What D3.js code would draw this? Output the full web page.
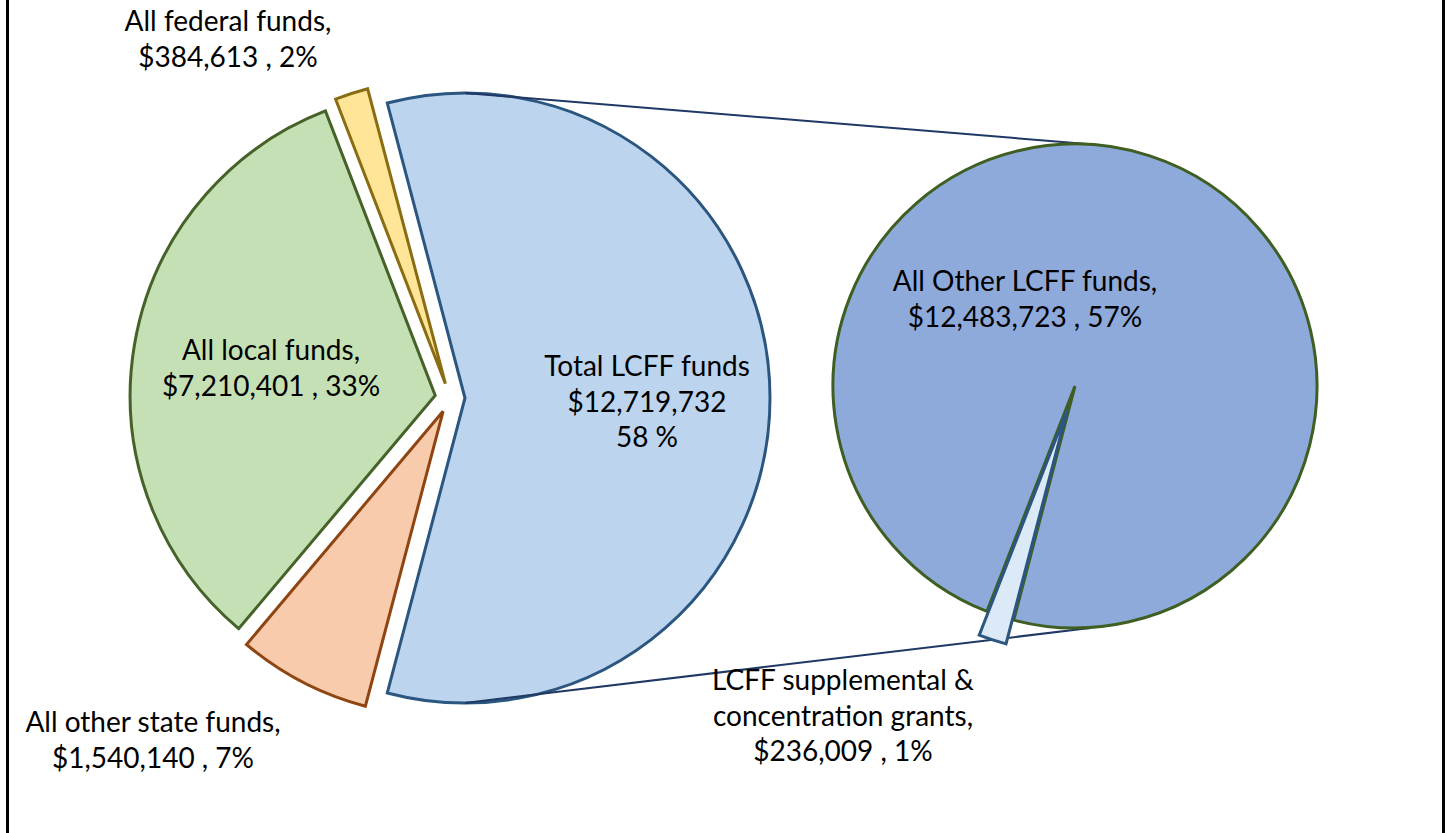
<!DOCTYPE html>
<html>
<head>
<meta charset="utf-8">
<script src="https://cdn.jsdelivr.net/npm/d3@7"></script>
<style>
  html, body { margin: 0; padding: 0; background: #ffffff; }
  svg { display: block; }
  text { font-family: Lato, "Open Sans", sans-serif; font-size: 28px; fill: #000; }
</style>
</head>
<body>
<svg id="chart" width="1451" height="833"></svg>
<script>
// ---- Data ----
const leftCategories = ["Total LCFF funds", "All other state funds", "All local funds", "All federal funds"];
const leftValues = [12719732, 1540140, 7210401, 384613];
const leftPercents = ["58 %", "7%", "33%", "2%"];

const rightCategories = ["LCFF supplemental & concentration grants", "All Other LCFF funds"];
const rightValues = [236009, 12483723];
const rightPercents = ["1%", "57%"];

// ---- Styles ----
const leftFill   = ["#bdd4ee", "#f8cbad", "#c5e0b4", "#ffe597"];
const leftStroke = ["#2a5680", "#8f4512", "#466229", "#8a6c12"];
const rightFill   = ["#dce9f6", "#8eaadb"];
const rightStroke = ["#2a5680", "#3f5f22"];

const fmt = d3.format("$,");

const svg = d3.select("#chart");
const W = 1451, H = 833;

// frame (left / right border lines; top/bottom outside the view)
svg.append("rect").attr("x", 7.5).attr("y", -10).attr("width", 1436).attr("height", H + 20)
  .attr("fill", "none").attr("stroke", "#000").attr("stroke-width", 3);

// ---- Left pie ----
const c0 = [450, 398], r0 = 305, explode0 = 15;
const totalLeft = d3.sum(leftValues);
const firstAngle = leftValues[0] / totalLeft * 2 * Math.PI;
const startL = Math.PI / 2 - firstAngle / 2;
const pieL = d3.pie().sort(null).startAngle(startL).endAngle(startL + 2 * Math.PI);
const arcsL = pieL(leftValues);
const arcL = d3.arc().innerRadius(0).outerRadius(r0);

function offset(a, dist) {
  const m = (a.startAngle + a.endAngle) / 2;
  return [Math.sin(m) * dist, -Math.cos(m) * dist];
}

const gL = svg.append("g").attr("transform", `translate(${c0[0]},${c0[1]})`);
gL.selectAll("path").data(arcsL).join("path")
  .attr("d", arcL)
  .attr("transform", d => { const o = offset(d, explode0); return `translate(${o[0]},${o[1]})`; })
  .attr("fill", (d, i) => leftFill[i])
  .attr("stroke", (d, i) => leftStroke[i])
  .attr("stroke-width", 3)
  .attr("stroke-linejoin", "miter");

// ---- Right pie ----
const c2 = [1075, 386], r2 = 242, explode2 = 25;
const totalRight = d3.sum(rightValues);
const smallAngle = rightValues[0] / totalRight * 2 * Math.PI;
const smallMid = 198 * Math.PI / 180;
const startR = smallMid - smallAngle / 2;
const pieR = d3.pie().sort(null).startAngle(startR).endAngle(startR + 2 * Math.PI);
const arcsR = pieR(rightValues);
const arcR = d3.arc().innerRadius(0).outerRadius(r2);

// connector lines (from top/bottom of the exploded first slice to top/bottom of second pie)
const o1 = offset(arcsL[0], explode0);
const lcffTop = [c0[0] + o1[0], c0[1] + o1[1] - r0];
const lcffBot = [c0[0] + o1[0], c0[1] + o1[1] + r0];
svg.append("line").attr("x1", lcffTop[0]).attr("y1", lcffTop[1]).attr("x2", c2[0] + 12).attr("y2", c2[1] - r2)
  .attr("stroke", "#1f3864").attr("stroke-width", 2);
svg.append("line").attr("x1", lcffBot[0]).attr("y1", lcffBot[1]).attr("x2", c2[0] + 15).attr("y2", c2[1] + r2)
  .attr("stroke", "#1f3864").attr("stroke-width", 2);

const gR = svg.append("g").attr("transform", `translate(${c2[0]},${c2[1]})`);
// big slice first, then the exploded small one on top
const orderR = [1, 0];
gR.selectAll("path").data(orderR.map(i => ({a: arcsR[i], i}))).join("path")
  .attr("d", d => arcR(d.a))
  .attr("transform", d => { const o = d.i === 0 ? offset(d.a, explode2) : [0, 0]; return `translate(${o[0]},${o[1]})`; })
  .attr("fill", d => rightFill[d.i])
  .attr("stroke", d => rightStroke[d.i])
  .attr("stroke-width", 3)
  .attr("stroke-linejoin", "miter");

// ---- Labels ----
const labels = [
  { lines: [leftCategories[3] + ",", fmt(leftValues[3]) + " , " + leftPercents[3]], x: 228, y: 31 },
  { lines: ["All local funds,", fmt(leftValues[2]) + " , " + leftPercents[2]], x: 271, y: 360 },
  { lines: [leftCategories[0], fmt(leftValues[0]), leftPercents[0]], x: 647, y: 376 },
  { lines: [leftCategories[1] + ",", fmt(leftValues[1]) + " , " + leftPercents[1]], x: 153, y: 732 },
  { lines: [rightCategories[1] + ",", fmt(rightValues[1]) + " , " + rightPercents[1]], x: 1025, y: 291 },
  { lines: ["LCFF supplemental &", "concentration grants,", fmt(rightValues[0]) + " , " + rightPercents[0]], x: 843, y: 690 }
];
const lineH = 35.5;
labels.forEach(l => {
  const t = svg.append("text").attr("text-anchor", "middle");
  l.lines.forEach((s, k) => {
    t.append("tspan").attr("x", l.x).attr("y", l.y + k * lineH).text(s);
  });
});
</script>
</body>
</html>
